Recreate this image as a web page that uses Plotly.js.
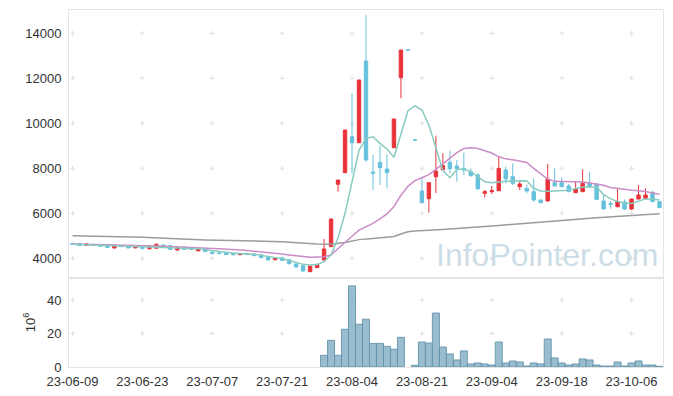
<!DOCTYPE html>
<html><head><meta charset="utf-8">
<script src="https://cdn.plot.ly/plotly-3.0.1.min.js"></script>
<style>html,body{margin:0;padding:0;background:#fff}#chart{width:673px;height:396px}</style>
</head><body><div id="chart"></div>
<script>
const dates = ['23-06-09','23-06-12','23-06-13','23-06-14','23-06-15','23-06-16','23-06-19','23-06-20','23-06-21','23-06-22',
'23-06-23','23-06-26','23-06-27','23-06-28','23-06-29','23-06-30','23-07-03','23-07-04','23-07-05','23-07-06',
'23-07-07','23-07-10','23-07-11','23-07-12','23-07-13','23-07-14','23-07-17','23-07-18','23-07-19','23-07-20',
'23-07-21','23-07-24','23-07-25','23-07-26','23-07-27','23-07-28','23-07-31','23-08-01','23-08-02','23-08-03',
'23-08-04','23-08-07','23-08-08','23-08-09','23-08-10','23-08-11','23-08-14','23-08-16','23-08-17','23-08-18',
'23-08-21','23-08-22','23-08-23','23-08-24','23-08-25','23-08-28','23-08-29','23-08-30','23-08-31','23-09-01',
'23-09-04','23-09-05','23-09-06','23-09-07','23-09-08','23-09-11','23-09-12','23-09-13','23-09-14','23-09-15',
'23-09-18','23-09-19','23-09-20','23-09-21','23-09-22','23-09-25','23-09-26','23-09-27','23-10-04','23-10-05',
'23-10-06','23-10-10','23-10-11','23-10-12','23-10-13'];

const open = [4650,4660,4570,4620,4610,4570,4460,4570,4560,4460,
4520,4420,4450,4590,4560,4370,4500,4470,4330,4450,
4265,4240,4236,4206,4161,4206,4190,4161,4087,3939,
4020,3939,3747,3672,3406,3584,3924,4516,7289,7804,
9404,9137,12768,7835,8266,7969,8915,12027,13262,9262,
6991,6650,7628,7939,8265,8102,7998,7850,7702,6887,
6961,7005,7924,7628,7183,7109,6961,6591,6546,7361,
7361,7213,6917,6961,7332,7302,6546,6430,6294,6502,
6191,6635,6665,6931,6517];
const high = [4660,4670,4660,4630,4620,4580,4600,4580,4570,4540,
4530,4540,4660,4600,4570,4510,4510,4480,4450,4460,
4275,4250,4250,4240,4215,4215,4200,4170,4100,4050,
4030,3950,3760,3690,3670,3745,4858,5760,7490,9710,
11333,11930,14813,8591,9004,8622,10200,13262,13262,9262,
7628,7370,9450,8666,8783,8369,8694,7998,7776,7035,
7213,8546,8073,8220,7480,7257,7554,6600,8191,7998,
7598,7302,7405,7954,7850,7310,6813,6540,7109,6620,
6640,7258,7109,7000,6520];
const low = [4620,4560,4560,4560,4520,4470,4430,4510,4450,4450,
4420,4410,4430,4470,4380,4340,4390,4380,4310,4290,
4200,4200,4160,4150,4150,4170,4110,4020,3910,3900,
3890,3730,3600,3410,3390,3575,3900,4500,6960,7790,
7777,9130,8293,7035,7258,7111,8900,11111,13252,9252,
6440,6028,6900,7925,7776,7405,7702,7628,7060,6709,
6858,6990,7332,7257,7035,6887,6517,6450,6530,7200,
7150,6950,6900,6950,7150,6600,6180,6200,6265,6146,
6146,6620,6620,6510,6240];
const close = [4630,4570,4640,4570,4530,4480,4590,4520,4460,4530,
4430,4530,4620,4480,4390,4500,4400,4390,4420,4300,
4206,4210,4165,4160,4206,4176,4117,4028,3924,4028,
3900,3761,3613,3436,3658,3732,4413,5747,7476,9702,
9137,11924,8369,7777,8027,7804,10191,13257,13252,9252,
6472,7361,7880,8117,7983,7983,7925,7672,7090,6961,
7005,7998,7530,7332,7302,6990,6591,6472,7524,7213,
7183,6961,7065,7332,7183,6621,6191,6400,6517,6191,
6635,6813,6813,6517,6250];
const volume = [0,0,0,0,0,0,0,0,0,0,
0,0,0,0,0,0,0,0,0,0,
0,0,0,0,0,0,0,0,0,0,
0,0,0,0,0,0,7.0,15.9,7.0,22.5,
48.4,25.5,28.5,14.1,14.1,12.3,10.6,17.7,0,1.0,
14.9,14.3,32.2,11.9,7.8,4.2,9.6,1.8,2.4,1.8,
1.2,14.9,2.4,3.6,3.0,0.6,2.4,1.8,16.7,5.4,
2.4,1.2,1.8,4.8,4.2,1.2,0.6,0.6,3.0,0.6,
2.4,3.6,1.2,1.2,0.4];
const ma5 = [4620,4610,4605,4600,4590,4570,4560,4550,4530,4520,
4510,4500,4510,4505,4490,4480,4460,4440,4420,4400,
4330,4290,4260,4230,4215,4200,4180,4130,4080,4040,
3980,3900,3820,3730,3700,3720,3850,4150,4900,6000,
7400,8800,9330,9400,9110,8860,8490,9560,10550,10780,
10590,9920,8950,7900,7580,7950,7970,7850,7630,7400,
7360,7400,7420,7430,7440,7450,7110,6990,6980,7000,
7010,7020,7100,7170,7170,7170,6830,6650,6520,6460,
6440,6550,6640,6620,6590];
const ma20 = [4640,4635,4630,4625,4620,4615,4610,4600,4590,4580,
4570,4560,4550,4540,4530,4515,4505,4490,4475,4460,
4440,4420,4410,4390,4370,4345,4320,4295,4260,4220,
4190,4150,4110,4080,4050,4060,4070,4150,4440,4700,
4980,5250,5400,5550,5750,5970,6300,6800,7200,7450,
7580,7720,7950,8200,8450,8700,8880,8910,8880,8780,
8680,8510,8420,8380,8330,8260,8000,7750,7520,7420,
7420,7410,7400,7390,7350,7300,7250,7150,7100,7050,
7020,7000,6970,6900,6850];
const maLongIdx = [0,10,19,30,35,37,39,41,43,45,46,47,48,49,53,61,67,75,84];
const maLongVal = [5006,4930,4813,4740,4640,4625,4700,4830,4880,4930,4970,5080,5180,5210,5280,5460,5620,5800,5980];
const priceTicks = [4000,6000,8000,10000,12000,14000];
const volTicks = [0,20,40];
const tickIdx = dates.map((d,i)=>i).filter(i=>i%10===0);
const tickDates = tickIdx.map(i=>dates[i]);

// light "+" marks at tick intersections, drawn below the data
const shapes = [];
const crossColor = '#e0e0e0';
function addCross(xi, yv, yref){
  shapes.push({type:'line', layer:'below', xref:'x', yref:yref, xsizemode:'pixel', xanchor:xi, x0:-2.5, x1:2.5, y0:yv, y1:yv, line:{color:crossColor, width:1}});
  shapes.push({type:'line', layer:'below', xref:'x', yref:yref, ysizemode:'pixel', yanchor:yv, y0:-2.5, y1:2.5, x0:xi, x1:xi, line:{color:crossColor, width:1}});
}
tickIdx.forEach(i=>{
  priceTicks.forEach(v=>addCross(i, v, 'y'));
  volTicks.filter(v=>v>0).forEach(v=>addCross(i, v, 'y2'));
});

const traces = [
 {type:'candlestick', x:dates, open:open, high:high, low:low, close:close, xaxis:'x', yaxis:'y',
  whiskerwidth:0,
  increasing:{line:{color:'#e8333b', width:1}, fillcolor:'#e8333b'},
  decreasing:{line:{color:'#67c1dc', width:1}, fillcolor:'#67c1dc'}},
 {type:'scatter', mode:'lines', x:maLongIdx.map(i=>dates[i]), y:maLongVal, line:{color:'#9b9b9b', width:1.5}, xaxis:'x', yaxis:'y'},
 {type:'scatter', mode:'lines', x:dates, y:ma20, line:{color:'#cc8cc6', width:1.5}, xaxis:'x', yaxis:'y'},
 {type:'scatter', mode:'lines', x:dates, y:ma5, line:{color:'#88cbc0', width:1.5}, xaxis:'x', yaxis:'y'},
 {type:'bar', x:dates, y:volume, xaxis:'x', yaxis:'y2',
  marker:{color:'rgba(128,172,194,0.8)', line:{color:'rgba(100,148,172,0.9)', width:volume.map(v=>v>0?1:0)}}}
];

const layout = {
 width:673, height:396,
 margin:{l:69, r:10, t:10, b:29},
 paper_bgcolor:'#ffffff', plot_bgcolor:'#ffffff',
 showlegend:false, bargap:0,
 font:{family:'Liberation Sans, Arial, sans-serif', size:13, color:'#333'},
 xaxis:{type:'category', categoryorder:'array', categoryarray:dates, range:[-0.5,84.5],
   tickmode:'array', tickvals:tickDates, ticktext:tickDates,
   showgrid:false, zeroline:false, showline:true, linecolor:'#e4e4e4', mirror:'all', anchor:'y2',
   rangeslider:{visible:false}, ticks:'', ticklabelstandoff:2, tickfont:{size:13, color:'#333'}},
 yaxis:{domain:[0.2493,1], range:[3124,15036], tickmode:'array', tickvals:priceTicks, tickformat:'d',
   showgrid:false, zeroline:false, showline:true, linecolor:'#e4e4e4', mirror:true, ticks:'', ticklabelstandoff:4},
 yaxis2:{domain:[0,0.2493], range:[0,53.1], tickmode:'array', tickvals:volTicks, tickformat:'d',
   showgrid:false, zeroline:false, showline:true, linecolor:'#e4e4e4', mirror:true, ticks:'', ticklabelstandoff:4,
   title:{text:'10<sup>6</sup>', standoff:8, font:{size:13, color:'#333'}}},
 shapes:shapes,
 annotations:[{text:'InfoPointer.com', xref:'paper', yref:'paper', x:0.805, y:0.3137, xanchor:'center', yanchor:'middle',
   showarrow:false, font:{family:'Liberation Sans, sans-serif', size:32, color:'rgba(170,198,216,0.6)'}}]
};
Plotly.newPlot('chart', traces, layout, {displayModeBar:false, staticPlot:true});
</script></body></html>
